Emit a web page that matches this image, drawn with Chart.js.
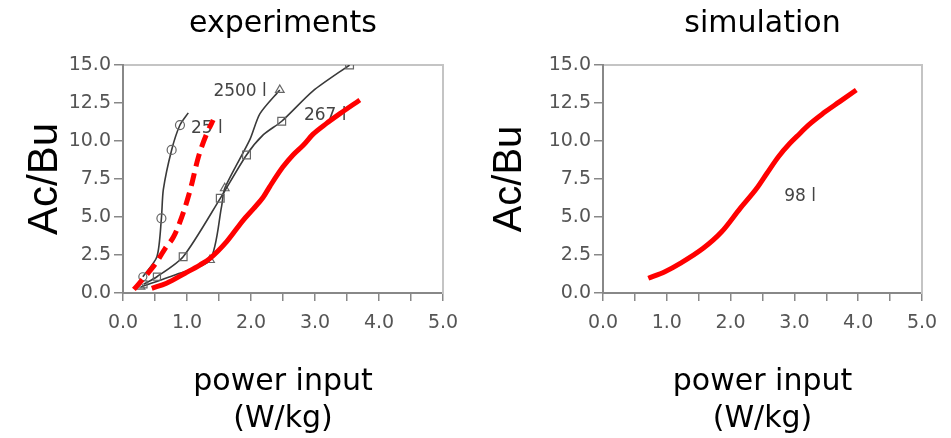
<!DOCTYPE html>
<html>
<head>
<meta charset="utf-8">
<script src="https://cdn.jsdelivr.net/npm/chart.js@4.4.1/dist/chart.umd.min.js"></script>
<style>
  html, body { margin: 0; padding: 0; background: #fff; }
  .panel { position: absolute; top: 0; height: 438px; }
  #leftPanel { left: 0; width: 475px; }
  #rightPanel { left: 475px; width: 476px; }
</style>
</head>
<body>
<div class="panel" id="leftPanel"><canvas id="expChart"></canvas></div>
<div class="panel" id="rightPanel"><canvas id="simChart"></canvas></div>
<script>
// measured curves, 25 l vessel (circles)
const v25X = [0.31, 0.53, 0.60, 0.63, 0.76, 0.89, 1.02];
const v25Y = [1.07, 2.39, 4.91, 6.80, 9.41, 11.05, 11.85];
const v25Marks = [4, 0, 4.5, 0, 4.5, 4.5, 0];

// measured curves, 267 l vessel (squares)
const v267X = [0.32, 0.53, 0.94, 1.52, 1.93, 2.19, 2.48, 2.97, 3.54];
const v267Y = [0.57, 1.07, 2.39, 6.23, 9.08, 10.40, 11.30, 13.30, 15.0];
const v267Marks = [5, 5, 5.5, 5.5, 5.5, 0, 5.5, 0, 5.5];

// measured curves, 2500 l vessel (triangles)
const v2500X = [0.28, 0.85, 1.36, 1.54, 1.59, 1.98, 2.14, 2.45];
const v2500Y = [0.40, 1.25, 2.17, 5.68, 6.89, 10.07, 11.80, 13.36];
const v2500Marks = [4.5, 0, 5, 0, 5, 0, 0, 5];

// red overlays on the experiments panel
const redDashX = [0.17, 0.35, 0.53, 0.66, 0.79, 0.92, 1.05, 1.18, 1.31, 1.41];
const redDashY = [0.24, 1.10, 2.06, 2.94, 3.70, 5.02, 6.78, 8.97, 10.50, 11.38];
const redSolidX = [0.45, 0.68, 0.97, 1.20, 1.36, 1.62, 1.88, 2.04, 2.19, 2.30, 2.50, 2.66, 2.82, 2.97, 3.18, 3.39, 3.70];
const redSolidY = [0.31, 0.64, 1.30, 1.84, 2.28, 3.38, 4.80, 5.55, 6.30, 7.05, 8.30, 9.10, 9.74, 10.45, 11.16, 11.80, 12.70];

// simulation panel, 98 l
const simX = [0.71, 0.97, 1.21, 1.57, 1.86, 2.15, 2.41, 2.57, 2.75, 2.93, 3.09, 3.22, 3.45, 3.71, 3.97];
const simY = [0.97, 1.40, 1.95, 2.94, 4.03, 5.57, 6.89, 7.88, 8.97, 9.85, 10.51, 11.05, 11.82, 12.59, 13.36];

// curve annotations
const expLabels = ['25 l', '2500 l', '267 l'];
const expLabelX = [1.31, 1.83, 3.16];
const expLabelY = [10.85, 13.25, 11.70];
const simLabels = ['98 l'];
const simLabelX = [3.09];
const simLabelY = [6.34];

const pts = (xs, ys) => xs.map((x, i) => ({ x: x, y: ys[i] }));

const curveLabelPlugin = {
    id: 'curveLabels',
    beforeDatasetsDraw(chart, args, opts) {
        const { ctx, scales: { x, y } } = chart;
        ctx.save();
        ctx.font = '17px "DejaVu Sans"';
        ctx.fillStyle = '#444';
        ctx.textAlign = 'center';
        ctx.textBaseline = 'middle';
        opts.text.forEach((t, i) => {
            ctx.fillText(t, x.getPixelForValue(opts.x[i]), y.getPixelForValue(opts.y[i]));
        });
        ctx.restore();
    }
};

function redLine(xs, ys, dash) {
    return {
        data: pts(xs, ys),
        borderColor: '#ff0000',
        borderWidth: 5,
        borderDash: dash || [],
        borderCapStyle: 'butt',
        pointRadius: 0,
        cubicInterpolationMode: 'monotone'
    };
}

function blackLine(xs, ys, style, radii) {
    return {
        data: pts(xs, ys),
        borderColor: '#3a3a3a',
        borderWidth: 1.6,
        pointStyle: style,
        pointRadius: radii,
        pointBorderColor: '#666',
        pointBorderWidth: 1.2,
        pointBackgroundColor: 'rgba(255,255,255,0)',
        tension: 0.25
    };
}

function makeOptions(cfg) {
    const tickFont = { family: 'DejaVu Sans', size: 19 };
    return {
        animation: false,
        responsive: true,
        maintainAspectRatio: false,
        layout: { padding: { left: 0, right: cfg.right, top: 0, bottom: 0 } },
        plugins: {
            legend: { display: false },
            tooltip: { enabled: false },
            curveLabels: { text: cfg.labels, x: cfg.labelX, y: cfg.labelY }
        },
        scales: {
            x: {
                type: 'linear',
                min: 0,
                max: 5,
                ticks: {
                    stepSize: 0.5,
                    autoSkip: false,
                    maxRotation: 0,
                    padding: 11,
                    color: '#555',
                    font: tickFont,
                    callback: v => (Math.abs(v - Math.round(v)) < 1e-6 ? v.toFixed(1) : '')
                },
                grid: { drawOnChartArea: false, tickLength: 8, color: '#888', lineWidth: 1.5 },
                border: { color: '#888', width: 2 },
                title: {
                    display: true,
                    text: ['power input', '(W/kg)'],
                    color: '#000',
                    font: { family: 'DejaVu Sans', size: 30, lineHeight: 1.23 },
                    padding: { top: 0, bottom: 0 }
                },
                afterFit: s => { s.height = 145; }
            },
            x2: {
                type: 'linear',
                position: 'top',
                min: 0,
                max: 5,
                ticks: { display: false },
                grid: { drawOnChartArea: false, drawTicks: false },
                border: { color: '#c4c4c4', width: 2 },
                title: {
                    display: true,
                    text: cfg.title,
                    color: '#000',
                    font: { family: 'DejaVu Sans', size: 30, lineHeight: 1.2 },
                    padding: { top: 6, bottom: 0 }
                },
                afterFit: s => { s.height = 65; }
            },
            y: {
                type: 'linear',
                min: 0,
                max: 15,
                ticks: {
                    stepSize: 2.5,
                    padding: 3,
                    color: '#555',
                    font: tickFont,
                    callback: v => v.toFixed(1)
                },
                grid: { drawOnChartArea: false, tickLength: 9, color: '#888', lineWidth: 1.5 },
                border: { color: '#888', width: 2 },
                title: {
                    display: true,
                    text: 'Ac/Bu',
                    color: '#000',
                    font: { family: 'Liberation Sans', size: cfg.yTitleSize, lineHeight: 1.2 },
                    padding: { top: cfg.yTitlePad, bottom: 0 }
                },
                afterFit: s => { s.width = cfg.yWidth; }
            },
            y2: {
                type: 'linear',
                position: 'right',
                min: 0,
                max: 15,
                ticks: { display: false },
                grid: { drawOnChartArea: false, drawTicks: false },
                border: { color: '#c4c4c4', width: 2 },
                afterFit: s => { s.width = 0; }
            }
        }
    };
}

new Chart(document.getElementById('expChart'), {
    type: 'line',
    data: {
        datasets: [
            redLine(redSolidX, redSolidY),
            redLine(redDashX, redDashY, [13, 7]),
            blackLine(v25X, v25Y, 'circle', v25Marks),
            blackLine(v267X, v267Y, 'rect', v267Marks),
            blackLine(v2500X, v2500Y, 'triangle', v2500Marks)
        ]
    },
    options: makeOptions({
        title: 'experiments', right: 32, yWidth: 123,
        yTitleSize: 42, yTitlePad: 20,
        labels: expLabels, labelX: expLabelX, labelY: expLabelY
    }),
    plugins: [curveLabelPlugin]
});

new Chart(document.getElementById('simChart'), {
    type: 'line',
    data: {
        datasets: [redLine(simX, simY)]
    },
    options: makeOptions({
        title: 'simulation', right: 29, yWidth: 128,
        yTitleSize: 40, yTitlePad: 11,
        labels: simLabels, labelX: simLabelX, labelY: simLabelY
    }),
    plugins: [curveLabelPlugin]
});
</script>
</body>
</html>
